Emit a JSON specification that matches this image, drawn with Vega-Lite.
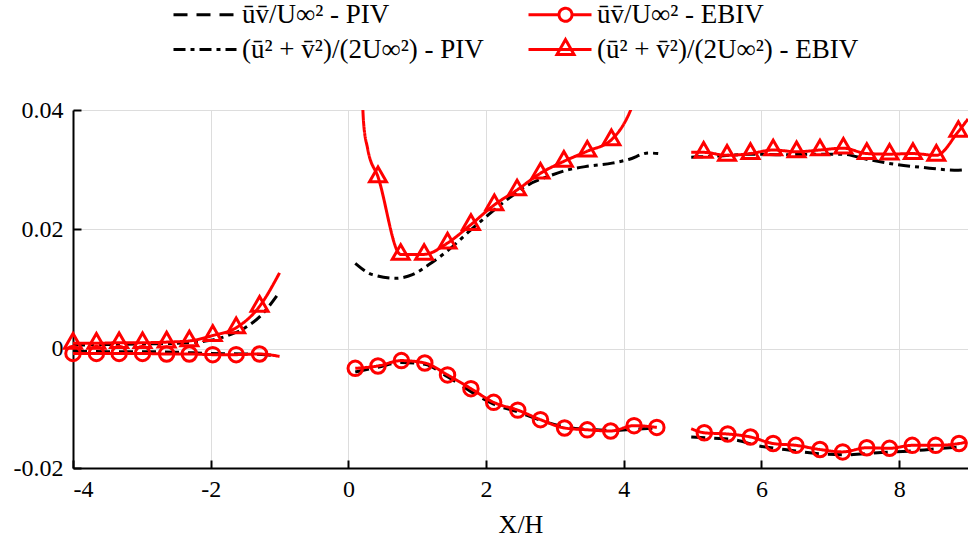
{
  "$schema": "https://vega.github.io/schema/vega-lite/v6.json",
  "width": 895,
  "height": 358,
  "autosize": {"type": "none"},
  "padding": {"left": 73, "top": 110, "right": 0, "bottom": 75},
  "background": "white",
  "config": {
    "view": {"stroke": null},
    "axis": {
      "domainColor": "black", "domainWidth": 2,
      "tickColor": "black", "tickWidth": 2, "tickSize": -8,
      "gridColor": "#dddddd", "gridWidth": 1,
      "labelFont": "Liberation Serif", "labelFontSize": 24, "labelColor": "black",
      "titleFont": "Liberation Serif", "titleFontSize": 26, "titleFontWeight": "normal", "titleColor": "black"
    }
  },
  "data": {"values": [
    {"s":"a","g":1,"x":-4,"y":-0.0004,"m":0},
    {"s":"a","g":1,"x":-3.5,"y":-0.0005,"m":0},
    {"s":"a","g":1,"x":-3,"y":-0.0005,"m":0},
    {"s":"a","g":1,"x":-2.5,"y":-0.0006,"m":0},
    {"s":"a","g":1,"x":-2,"y":-0.0008,"m":0},
    {"s":"a","g":1,"x":-1.5,"y":-0.0009,"m":0},
    {"s":"a","g":1,"x":-1.2,"y":-0.0010,"m":0},
    {"s":"a","g":1,"x":-1.0,"y":-0.0014,"m":0},
    {"s":"a","g":2,"x":0.10,"y":-0.0039,"m":0},
    {"s":"a","g":2,"x":0.43,"y":-0.0031,"m":0},
    {"s":"a","g":2,"x":0.77,"y":-0.0023,"m":0},
    {"s":"a","g":2,"x":1.11,"y":-0.0026,"m":0},
    {"s":"a","g":2,"x":1.44,"y":-0.0047,"m":0},
    {"s":"a","g":2,"x":1.78,"y":-0.0072,"m":0},
    {"s":"a","g":2,"x":2.11,"y":-0.0093,"m":0},
    {"s":"a","g":2,"x":2.46,"y":-0.0106,"m":0},
    {"s":"a","g":2,"x":2.79,"y":-0.0120,"m":0},
    {"s":"a","g":2,"x":3.14,"y":-0.0131,"m":0},
    {"s":"a","g":2,"x":3.47,"y":-0.0135,"m":0},
    {"s":"a","g":2,"x":3.81,"y":-0.0137,"m":0},
    {"s":"a","g":2,"x":4.15,"y":-0.0135,"m":0},
    {"s":"a","g":2,"x":4.48,"y":-0.0133,"m":0},
    {"s":"a","g":3,"x":4.98,"y":-0.0148,"m":0},
    {"s":"a","g":3,"x":5.30,"y":-0.0150,"m":0},
    {"s":"a","g":3,"x":5.62,"y":-0.0153,"m":0},
    {"s":"a","g":3,"x":5.96,"y":-0.0163,"m":0},
    {"s":"a","g":3,"x":6.34,"y":-0.0169,"m":0},
    {"s":"a","g":3,"x":6.83,"y":-0.0176,"m":0},
    {"s":"a","g":3,"x":7.21,"y":-0.0178,"m":0},
    {"s":"a","g":3,"x":7.74,"y":-0.0174,"m":0},
    {"s":"a","g":3,"x":8.13,"y":-0.0172,"m":0},
    {"s":"a","g":3,"x":8.52,"y":-0.0168,"m":0},
    {"s":"a","g":3,"x":8.97,"y":-0.0164,"m":0},

    {"s":"b","g":1,"x":-4,"y":-0.0008,"m":1},
    {"s":"b","g":1,"x":-3.66,"y":-0.0008,"m":1},
    {"s":"b","g":1,"x":-3.33,"y":-0.0008,"m":1},
    {"s":"b","g":1,"x":-2.99,"y":-0.0008,"m":1},
    {"s":"b","g":1,"x":-2.64,"y":-0.0009,"m":1},
    {"s":"b","g":1,"x":-2.31,"y":-0.0009,"m":1},
    {"s":"b","g":1,"x":-1.97,"y":-0.0010,"m":1},
    {"s":"b","g":1,"x":-1.63,"y":-0.0010,"m":1},
    {"s":"b","g":1,"x":-1.29,"y":-0.0009,"m":1},
    {"s":"b","g":1,"x":-1.0,"y":-0.0013,"m":0},
    {"s":"b","g":2,"x":0.10,"y":-0.0033,"m":1},
    {"s":"b","g":2,"x":0.43,"y":-0.0029,"m":1},
    {"s":"b","g":2,"x":0.77,"y":-0.0020,"m":1},
    {"s":"b","g":2,"x":1.11,"y":-0.0024,"m":1},
    {"s":"b","g":2,"x":1.44,"y":-0.0044,"m":1},
    {"s":"b","g":2,"x":1.78,"y":-0.0067,"m":1},
    {"s":"b","g":2,"x":2.11,"y":-0.0090,"m":1},
    {"s":"b","g":2,"x":2.46,"y":-0.0103,"m":1},
    {"s":"b","g":2,"x":2.79,"y":-0.0119,"m":1},
    {"s":"b","g":2,"x":3.14,"y":-0.0133,"m":1},
    {"s":"b","g":2,"x":3.47,"y":-0.0136,"m":1},
    {"s":"b","g":2,"x":3.81,"y":-0.0138,"m":1},
    {"s":"b","g":2,"x":4.15,"y":-0.0129,"m":1},
    {"s":"b","g":2,"x":4.48,"y":-0.0132,"m":1},
    {"s":"b","g":3,"x":4.98,"y":-0.0134,"m":0},
    {"s":"b","g":3,"x":5.17,"y":-0.0141,"m":1},
    {"s":"b","g":3,"x":5.51,"y":-0.0143,"m":1},
    {"s":"b","g":3,"x":5.84,"y":-0.0148,"m":1},
    {"s":"b","g":3,"x":6.17,"y":-0.0159,"m":1},
    {"s":"b","g":3,"x":6.50,"y":-0.0162,"m":1},
    {"s":"b","g":3,"x":6.85,"y":-0.0169,"m":1},
    {"s":"b","g":3,"x":7.18,"y":-0.0173,"m":1},
    {"s":"b","g":3,"x":7.53,"y":-0.0166,"m":1},
    {"s":"b","g":3,"x":7.86,"y":-0.0167,"m":1},
    {"s":"b","g":3,"x":8.19,"y":-0.0162,"m":1},
    {"s":"b","g":3,"x":8.53,"y":-0.0162,"m":1},
    {"s":"b","g":3,"x":8.87,"y":-0.0159,"m":1},
    {"s":"b","g":3,"x":8.99,"y":-0.0156,"m":0},

    {"s":"c","g":1,"x":-4,"y":0.0006,"m":0},
    {"s":"c","g":1,"x":-3.5,"y":0.0007,"m":0},
    {"s":"c","g":1,"x":-3,"y":0.0008,"m":0},
    {"s":"c","g":1,"x":-2.5,"y":0.0009,"m":0},
    {"s":"c","g":1,"x":-2,"y":0.0014,"m":0},
    {"s":"c","g":1,"x":-1.75,"y":0.0022,"m":0},
    {"s":"c","g":1,"x":-1.5,"y":0.0035,"m":0},
    {"s":"c","g":1,"x":-1.25,"y":0.0058,"m":0},
    {"s":"c","g":1,"x":-1.0,"y":0.0095,"m":0},
    {"s":"c","g":2,"x":0.10,"y":0.0143,"m":0},
    {"s":"c","g":2,"x":0.35,"y":0.0124,"m":0},
    {"s":"c","g":2,"x":0.69,"y":0.0118,"m":0},
    {"s":"c","g":2,"x":0.93,"y":0.0124,"m":0},
    {"s":"c","g":2,"x":1.17,"y":0.0141,"m":0},
    {"s":"c","g":2,"x":1.46,"y":0.0166,"m":0},
    {"s":"c","g":2,"x":1.75,"y":0.0196,"m":0},
    {"s":"c","g":2,"x":2.04,"y":0.0225,"m":0},
    {"s":"c","g":2,"x":2.33,"y":0.0252,"m":0},
    {"s":"c","g":2,"x":2.62,"y":0.0275,"m":0},
    {"s":"c","g":2,"x":2.91,"y":0.0289,"m":0},
    {"s":"c","g":2,"x":3.20,"y":0.0300,"m":0},
    {"s":"c","g":2,"x":3.49,"y":0.0306,"m":0},
    {"s":"c","g":2,"x":3.83,"y":0.0311,"m":0},
    {"s":"c","g":2,"x":4.07,"y":0.0317,"m":0},
    {"s":"c","g":2,"x":4.36,"y":0.0328,"m":0},
    {"s":"c","g":2,"x":4.50,"y":0.0327,"m":0},
    {"s":"c","g":3,"x":4.98,"y":0.0321,"m":0},
    {"s":"c","g":3,"x":5.38,"y":0.0323,"m":0},
    {"s":"c","g":3,"x":5.86,"y":0.0326,"m":0},
    {"s":"c","g":3,"x":6.34,"y":0.0325,"m":0},
    {"s":"c","g":3,"x":6.83,"y":0.0326,"m":0},
    {"s":"c","g":3,"x":7.16,"y":0.0326,"m":0},
    {"s":"c","g":3,"x":7.55,"y":0.0317,"m":0},
    {"s":"c","g":3,"x":7.94,"y":0.0309,"m":0},
    {"s":"c","g":3,"x":8.32,"y":0.0304,"m":0},
    {"s":"c","g":3,"x":8.86,"y":0.0299,"m":0},
    {"s":"c","g":3,"x":8.97,"y":0.0300,"m":0},

    {"s":"d","g":1,"x":-4,"y":0.0009,"m":1},
    {"s":"d","g":1,"x":-3.66,"y":0.0009,"m":1},
    {"s":"d","g":1,"x":-3.33,"y":0.0010,"m":1},
    {"s":"d","g":1,"x":-2.99,"y":0.0010,"m":1},
    {"s":"d","g":1,"x":-2.64,"y":0.0011,"m":1},
    {"s":"d","g":1,"x":-2.31,"y":0.0013,"m":1},
    {"s":"d","g":1,"x":-1.97,"y":0.0022,"m":1},
    {"s":"d","g":1,"x":-1.63,"y":0.0035,"m":1},
    {"s":"d","g":1,"x":-1.29,"y":0.0071,"m":1},
    {"s":"d","g":1,"x":-1.0,"y":0.0127,"m":0},
    {"s":"d","g":2,"x":0.19,"y":0.047,"m":0},
    {"s":"d","g":2,"x":0.22,"y":0.038,"m":0},
    {"s":"d","g":2,"x":0.28,"y":0.0335,"m":0},
    {"s":"d","g":2,"x":0.43,"y":0.0288,"m":1},
    {"s":"d","g":2,"x":0.76,"y":0.0158,"m":1},
    {"s":"d","g":2,"x":1.10,"y":0.0158,"m":1},
    {"s":"d","g":2,"x":1.44,"y":0.0177,"m":1},
    {"s":"d","g":2,"x":1.78,"y":0.0208,"m":1},
    {"s":"d","g":2,"x":2.12,"y":0.0241,"m":1},
    {"s":"d","g":2,"x":2.45,"y":0.0266,"m":1},
    {"s":"d","g":2,"x":2.79,"y":0.0294,"m":1},
    {"s":"d","g":2,"x":3.13,"y":0.0314,"m":1},
    {"s":"d","g":2,"x":3.47,"y":0.0331,"m":1},
    {"s":"d","g":2,"x":3.82,"y":0.0350,"m":1},
    {"s":"d","g":2,"x":4.10,"y":0.0400,"m":0},
    {"s":"d","g":2,"x":4.25,"y":0.0450,"m":0},
    {"s":"d","g":3,"x":4.98,"y":0.0329,"m":0},
    {"s":"d","g":3,"x":5.16,"y":0.0329,"m":1},
    {"s":"d","g":3,"x":5.50,"y":0.0324,"m":1},
    {"s":"d","g":3,"x":5.84,"y":0.0327,"m":1},
    {"s":"d","g":3,"x":6.17,"y":0.0333,"m":1},
    {"s":"d","g":3,"x":6.51,"y":0.0330,"m":1},
    {"s":"d","g":3,"x":6.85,"y":0.0333,"m":1},
    {"s":"d","g":3,"x":7.19,"y":0.0336,"m":1},
    {"s":"d","g":3,"x":7.53,"y":0.0327,"m":1},
    {"s":"d","g":3,"x":7.86,"y":0.0326,"m":1},
    {"s":"d","g":3,"x":8.20,"y":0.0327,"m":1},
    {"s":"d","g":3,"x":8.54,"y":0.0324,"m":1},
    {"s":"d","g":3,"x":8.86,"y":0.0364,"m":1},
    {"s":"d","g":3,"x":9.0,"y":0.0385,"m":0}
  ]},
  "encoding": {
    "x": {"field": "x", "type": "quantitative",
      "scale": {"domain": [-4, 9], "nice": false, "zero": false},
      "axis": {"values": [-4, -2, 0, 2, 4, 6, 8], "title": "X/H", "labelPadding": 17, "titlePadding": 10,
        "labelExpr": "datum.value < 0 ? '-' + abs(datum.value) : '' + datum.value"}},
    "y": {"field": "y", "type": "quantitative",
      "scale": {"domain": [-0.02, 0.04], "nice": false, "zero": false},
      "axis": {"values": [-0.02, 0, 0.02, 0.04], "title": null, "labelPadding": 18,
        "labelExpr": "abs(datum.value) < 1e-9 ? '0' : (datum.value < 0 ? '-' + format(abs(datum.value), '.2f') : format(datum.value, '.2f'))"}}
  },
  "layer": [
    {
      "mark": {"type": "line", "interpolate": "monotone", "clip": true, "strokeWidth": 3},
      "encoding": {
        "color": {"field": "s", "type": "nominal",
          "scale": {"domain": ["a", "b", "c", "d"], "range": ["#000000", "#ff0000", "#000000", "#ff0000"]},
          "legend": {"orient": "none", "legendX": 97, "legendY": -109, "columns": 2, "title": null, "padding": 0,
            "direction": "horizontal",
            "labelFont": "Liberation Serif", "labelFontSize": 27, "labelColor": "black", "labelLimit": 0,
            "labelOffset": 45, "columnPadding": 38, "rowPadding": 5,
            "symbolSize": 400, "symbolStrokeWidth": 3,
            "labelExpr": "datum.value == 'a' ? 'ūv̄/U∞² - PIV' : datum.value == 'b' ? 'ūv̄/U∞² - EBIV' : datum.value == 'c' ? '(ū² + v̄²)/(2U∞²) - PIV' : '(ū² + v̄²)/(2U∞²) - EBIV'",
            "encode": {"symbols": {"update": {
              "shape": {"signal": "datum.value == 'b' ? 'M-1,0H2.05A0.65,0.65 0 1,1 3.35,0A0.65,0.65 0 1,1 2.05,0M3.35,0H5.3' : datum.value == 'd' ? 'M-1,0H5.3M2.7,-1L3.55,0.5L1.85,0.5Z' : 'M-1,0H5.3'"},
              "size": {"value": 400}}}}}},
        "strokeDash": {"field": "s", "type": "nominal",
          "scale": {"domain": ["a", "b", "c", "d"], "range": [[14, 9], [1, 0], [12, 5, 4, 5], [1, 0]]},
          "legend": {"orient": "none", "legendX": 97, "legendY": -109, "columns": 2, "title": null, "padding": 0,
            "direction": "horizontal",
            "labelFont": "Liberation Serif", "labelFontSize": 27, "labelColor": "black", "labelLimit": 0,
            "labelOffset": 45, "columnPadding": 38, "rowPadding": 5,
            "symbolSize": 400, "symbolStrokeWidth": 3,
            "labelExpr": "datum.value == 'a' ? 'ūv̄/U∞² - PIV' : datum.value == 'b' ? 'ūv̄/U∞² - EBIV' : datum.value == 'c' ? '(ū² + v̄²)/(2U∞²) - PIV' : '(ū² + v̄²)/(2U∞²) - EBIV'",
            "encode": {"symbols": {"update": {
              "shape": {"signal": "datum.value == 'b' ? 'M-1,0H2.05A0.65,0.65 0 1,1 3.35,0A0.65,0.65 0 1,1 2.05,0M3.35,0H5.3' : datum.value == 'd' ? 'M-1,0H5.3M2.7,-1L3.55,0.5L1.85,0.5Z' : 'M-1,0H5.3'"},
              "size": {"value": 400}}}}}},
        "detail": {"field": "g", "type": "nominal"}
      }
    },
    {
      "transform": [{"filter": "datum.s == 'b' && datum.m == 1"}],
      "mark": {"type": "point", "shape": "circle", "filled": false, "size": 210, "strokeWidth": 3, "color": "#ff0000", "opacity": 1}
    },
    {
      "transform": [{"filter": "datum.s == 'd' && datum.m == 1"}],
      "mark": {"type": "point", "shape": "M0,-1L0.866,0.5L-0.866,0.5Z", "filled": false, "size": 380, "strokeWidth": 3, "color": "#ff0000", "opacity": 1}
    }
  ]
}
